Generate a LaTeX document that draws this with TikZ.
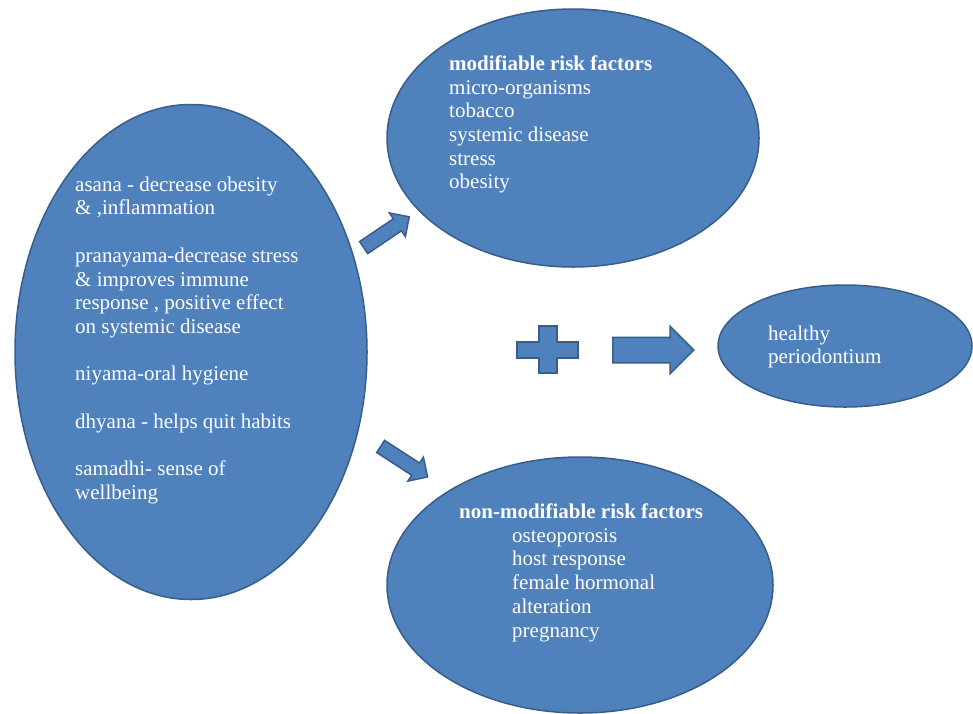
\documentclass[tikz,border=0pt]{standalone}
\usepackage{fontspec}
\setmainfont{Liberation Serif}
\usetikzlibrary{shapes,arrows}
\definecolor{fillblue}{RGB}{79,129,189}
\definecolor{lineblue}{RGB}{56,93,138}
\tikzstyle{bubble} = [ellipse, draw=lineblue, fill=fillblue, line width=1.5pt,
    inner sep=0pt]
\tikzstyle{txt} = [text=white, align=left, inner sep=0pt, anchor=north west,
    font=\fontsize{21}{23.7}\selectfont]
\tikzstyle{fat} = [single arrow, draw=lineblue, fill=fillblue, line width=1.5pt,
    single arrow head indent=0pt, inner xsep=0pt, anchor=tail]

\begin{document}
\begin{tikzpicture}[x=1pt,y=-1pt]
  \useasboundingbox (0,0) rectangle (973,713);

  \node[bubble, minimum width=352, minimum height=495] (yoga)    at (191,352) {};
  \node[bubble, minimum width=372, minimum height=258] (modif)   at (573,138) {};
  \node[bubble, minimum width=386, minimum height=256] (nonmod)  at (580,585) {};
  \node[bubble, minimum width=254, minimum height=122] (healthy) at (845,346) {};

  \node[txt] (yogatxt) at (75,176.5) {asana - decrease obesity\\
    \& ,inflammation\\[23.7pt]
    pranayama-decrease stress\\ \& improves immune\\
    response , positive effect\\ on systemic disease\\[23.7pt]
    niyama-oral hygiene\\[23.7pt]
    dhyana - helps quit habits\\[23.7pt]
    samadhi- sense of\\ wellbeing};
  \node[txt] (modiftxt) at (449,55.5) {\textbf{modifiable risk factors}\\
    micro-organisms\\ tobacco\\ systemic disease\\ stress\\ obesity};
  \node[txt] (nonmodtxt) at (459,503.5) {\textbf{non-modifiable risk factors}\\
    \hspace*{53pt}osteoporosis\\ \hspace*{53pt}host response\\
    \hspace*{53pt}female hormonal\\ \hspace*{53pt}alteration\\
    \hspace*{53pt}pregnancy};
  \node[txt] (healthytxt) at (768,325.5) {healthy\\ periodontium};

  % block arrows
  \node[fat, rotate=34, minimum height=55, minimum width=27, inner ysep=6.5pt,
        single arrow head extend=7pt] (toup) at (363,248) {};
  \node[fat, rotate=-33, minimum height=56, minimum width=27, inner ysep=6.5pt,
        single arrow head extend=7pt] (todown) at (380,446) {};
  \node[fat, minimum height=81, minimum width=46, inner ysep=12pt,
        single arrow head extend=11pt] (toright) at (612,350) {};

  % plus sign
  \draw[draw=lineblue, fill=fillblue, line width=1.5pt]
    (539,326) -- (557,326) -- (557,342) -- (578,342) -- (578,358) -- (557,358)
    -- (557,373) -- (539,373) -- (539,358) -- (517,358) -- (517,342)
    -- (539,342) -- cycle;
\end{tikzpicture}
\end{document}
